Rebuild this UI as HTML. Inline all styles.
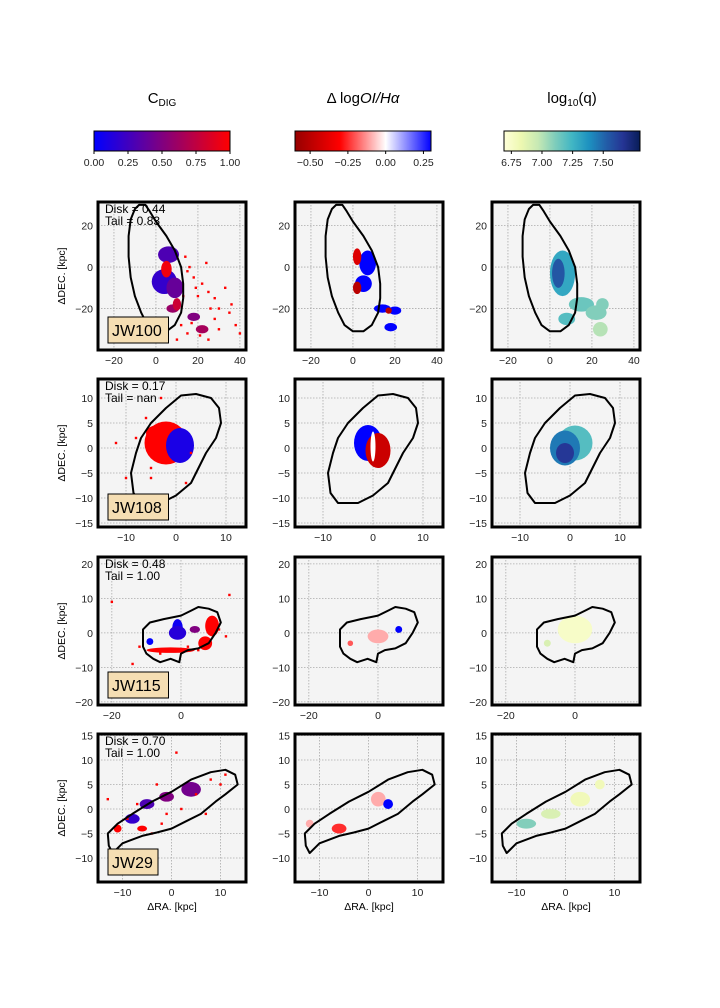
<!DOCTYPE html>
<html><head><meta charset="utf-8"><style>
body{margin:0;background:#fff;}
svg{display:block;font-family:"Liberation Sans",sans-serif;}
</style></head><body>
<svg id="fig" width="720" height="1008" viewBox="0 0 720 1008" xmlns="http://www.w3.org/2000/svg"></svg>
<script>
// ---- data ----
const colTitles = ["C_DIG","Δ logOI/Hα","log10(q)"];
const cbTicks0 = [0,0.25,0.5,0.75,1.0];
const cbTickLabels0 = ["0.00","0.25","0.50","0.75","1.00"];
const cbTicks1 = [-0.5,-0.25,0,0.25];
const cbTickLabels1 = ["−0.50","−0.25","0.00","0.25"];
const cbTicks2 = [6.75,7.0,7.25,7.5];
const cbTickLabels2 = ["6.75","7.00","7.25","7.50"];
const galaxyNames = ["JW100","JW108","JW115","JW29"];
const diskVals = ["0.44","0.17","0.48","0.70"];
const tailVals = ["0.83","nan","1.00","1.00"];
const xRanges = [[-27.6,42.9],[-15.6,14],[-24,18.8],[-15,15.2]];
const yRanges = [[-40,31.4],[-15.8,13.8],[-20.9,22],[-14.9,15.3]];
const xTicks = [[-20,0,20,40],[-10,0,10],[-20,0],[-10,0,10]];
const yTicks = [[20,0,-20],[10,5,0,-5,-10,-15],[20,10,0,-10,-20],[15,10,5,0,-5,-10]];
const contour0 = [[-8,30],[-5,30],[-3,27],[0,22],[5,15],[9,8],[12,0],[13,-8],[13,-15],[12,-22],[9,-28],[5,-31],[0,-31],[-4,-28],[-7,-22],[-10,-14],[-12,-5],[-13,5],[-13,15],[-12,23],[-10,28]];
const contour1 = [[4,10.8],[7,10],[8.6,8],[9,5],[8,2],[6,-1],[4.5,-4],[3,-7],[0,-9.5],[-3,-11],[-7,-11],[-8.5,-9],[-9,-5],[-8,-1],[-7,2],[-5,5],[-2,8],[1,10.5]];
const contour2 = [[-11,1],[-9,3],[-5,4],[0,5],[3,6.5],[5,7.5],[8,7],[10.5,6],[11.5,3],[10,0],[8,-3],[5,-4.5],[2,-5],[0,-6],[-0.5,-8.5],[-3,-7.5],[-6,-8.5],[-8,-7.5],[-10,-6],[-11,-4]];
const contour3 = [[-12.8,-7.5],[-13,-5],[-11,-3],[-8,-1],[-4,1.5],[0,3.5],[4,6],[8,7.5],[11,8],[13,7],[13.5,5],[11,3],[9,1.5],[6,-1],[3,-2.5],[0,-4],[-3,-4.8],[-6,-5.5],[-10,-7],[-12,-9]];
const contours = [contour0,contour1,contour2,contour3];
// blobs: [x, y, rx, ry, value]
const cdigBlobs = [
 [[6,6,5,4,0.3],[4,-7,6,6,0.2],[9,-10,4,5,0.4],[5,-1,2.5,4,0.95],[8,-20,3,2,0.6],[18,-24,3,2,0.5],[22,-30,3,2,0.65],[10,-18,2,3,0.8]],
 [[-2,1,4.3,4.3,1.0],[0.8,0.5,2.8,3.5,0.1],[-4,3,2,1.5,1.0]],
 [[-3,-5,7,0.8,1],[9,2,2,3,1],[7,-3,2,2,1],[-1,1.5,1.5,2.5,0.05],[-1,0,2.5,2,0.15],[4,1,1.5,1,0.5],[-9,-2.5,1,1,0.0]],
 [[4,4,2,1.5,0.45],[-1,2.5,1.5,1,0.5],[-5,1,1.5,1,0.3],[-8,-2,1.5,1,0.2],[-6,-4,1,0.6,1],[-11,-4,0.8,0.8,1]]
];
const oiBlobs = [
 [[7,2,4,6,0.3],[5,-8,4,4,0.3],[2,5,2,4,-0.4],[2,-10,2,3,-0.5],[14,-20,4,2,0.3],[20,-21,3,2,0.3],[18,-29,3,2,0.3],[17,-21,1.5,1.5,-0.5]],
 [[-1,1,2.8,3.6,0.3],[1,-0.5,2.5,3.5,-0.45],[0,0.3,0.5,3,0]],
 [[0,-1,3,2,-0.1],[-8,-3,0.8,0.8,-0.2],[6,1,1,1,0.3]],
 [[-6,-4,1.5,1,-0.25],[2,2,1.5,1.5,-0.1],[4,1,1,1,0.3],[-12,-3,0.8,0.8,-0.1]]
];
const qBlobs = [
 [[6,-3,6,11,7.3],[4,-3,3,7,7.55],[15,-18,6,3.5,7.15],[22,-22,5,3.5,7.1],[24,-30,3.5,3.5,7.0],[25,-18,3,3,7.1],[8,-25,4,3,7.2]],
 [[1,1,3.5,3.5,7.2],[-1,0,3,3.5,7.45],[-1,-1,1.8,2,7.65]],
 [[0,1,5,4,6.75],[-8,-3,1,1,6.9]],
 [[3,2,2,1.5,6.8],[-8,-3,2,1,7.1],[-3,-1,2,1,6.9],[7,5,1,1,6.8]]
];
// scattered pixels in C_DIG maps: [x, y, value]
const cdigSpecks = [
 [[15,-2,1],[18,-5,1],[22,-8,1],[25,-12,1],[28,-15,1],[30,-20,1],[35,-22,1],[38,-28,1],[40,-32,1],[12,-28,1],[15,-32,1],[25,-35,1],[30,-30,1],[20,-14,1],[14,5,1],[24,2,1],[33,-10,1],[36,-18,1],[10,-35,1],[28,-25,1],[17,-27,1],[21,-33,1],[16,0,1],[19,-10,1],[26,-20,1],[13,-14,1]],
 [[-8,2,1],[-5,-4,1],[-10,-6,1],[2,-7,1],[-3,10,1],[-12,1,1],[-5,-6,1],[3,-1,1],[-6,6,1],[-2,-12,1]],
 [[-12,-4,1],[-14,-9,1],[11,1,1],[13,-1,1],[-6,-6,1],[2,-4,1],[5,-5,1],[-20,9,1],[14,11,1]],
 [[-9,-2,1],[-4,-5,1],[-2,-3,1],[2,0,1],[5,3,1],[8,6,1],[10,5,1],[-3,5,1],[-7,1,1],[1,11.5,1],[-13,2,1],[11,7,1],[7,-1,1],[-1,-1,1]]
];
// ---- helpers ----
const NS="http://www.w3.org/2000/svg";
const fig=document.getElementById('fig');
function mk(tag,attrs,parent){const e=document.createElementNS(NS,tag);for(const k in attrs)e.setAttribute(k,attrs[k]);(parent||fig).appendChild(e);return e;}
function lerp(a,b,t){return a+(b-a)*t;}
function interp(stops,t){t=Math.max(0,Math.min(1,t));for(let i=1;i<stops.length;i++){if(t<=stops[i][0]){const s=stops[i-1],e=stops[i];const u=(t-s[0])/(e[0]-s[0]);return `rgb(${Math.round(lerp(s[1],e[1],u))},${Math.round(lerp(s[2],e[2],u))},${Math.round(lerp(s[3],e[3],u))})`;}}const l=stops[stops.length-1];return `rgb(${l[1]},${l[2]},${l[3]})`;}
const stops0=[[0,0,0,255],[0.5,128,0,128],[1,255,0,0]];
const stops1=[[0,150,0,0],[0.33,255,0,0],[0.667,255,255,255],[1,0,0,255]];
const stops2=[[0,255,255,217],[0.125,237,248,177],[0.25,199,233,180],[0.375,127,205,187],[0.5,65,182,196],[0.625,29,145,192],[0.75,34,94,168],[0.875,37,52,148],[1,8,29,88]];
const cmaps=[{stops:stops0,vmin:0,vmax:1},{stops:stops1,vmin:-0.6,vmax:0.3},{stops:stops2,vmin:6.69,vmax:7.80}];
function col(c,v){const m=cmaps[c];return interp(m.stops,(v-m.vmin)/(m.vmax-m.vmin));}
// ---- colorbars ----
const cbX=[94,295,504], cbW=136, cbY=131, cbH=20, cbCx=[162,363,572];
const cbTicksAll=[cbTicks0,cbTicks1,cbTicks2], cbLabAll=[cbTickLabels0,cbTickLabels1,cbTickLabels2];
const defs=mk('defs',{});
for(let c=0;c<3;c++){
  const g=mk('linearGradient',{id:'g'+c,x1:0,x2:1,y1:0,y2:0},defs);
  for(const s of cmaps[c].stops){mk('stop',{offset:s[0],'stop-color':`rgb(${s[1]},${s[2]},${s[3]})`},g);}
  const t=mk('text',{x:cbCx[c],y:103,'text-anchor':'middle','font-size':15,fill:'#000'});
  
  
  if(c===0){t.innerHTML='C<tspan font-size="10" dy="3">DIG</tspan>';}
  else if(c===1){t.innerHTML='Δ log<tspan font-style="italic">OI/Hα</tspan>';}
  else{t.innerHTML='log<tspan font-size="10" dy="3">10</tspan><tspan dy="-3">(q)</tspan>';}
  const r=mk('rect',{x:cbX[c],y:cbY,width:cbW,height:cbH,fill:`url(#g${c})`,stroke:'#000','stroke-width':1});
  
  
  const m=cmaps[c];
  cbTicksAll[c].forEach((v,i)=>{
    const x=cbX[c]+(v-m.vmin)/(m.vmax-m.vmin)*cbW;
    mk('line',{x1:x,x2:x,y1:cbY+cbH,y2:cbY+cbH+3,stroke:'#000','stroke-width':1});
    const tl=mk('text',{x:x,y:166,'text-anchor':'middle','font-size':10.5,fill:'#222'});
    
    
    tl.textContent=cbLabAll[c][i];
  });
}
// ---- panels ----
const colX=[98,295,492], rowY=[202,379,557,734], P=148;
const blobSets=[cdigBlobs,oiBlobs,qBlobs];
for(let r=0;r<4;r++){
  for(let c=0;c<3;c++){
    const x0=colX[c], y0=rowY[r];
    const [xa,xb]=xRanges[r], [ya,yb]=yRanges[r];
    const sx=v=>x0+(v-xa)/(xb-xa)*P;
    const sy=v=>y0+P-(v-ya)/(yb-ya)*P;
    const kx=P/(xb-xa), ky=P/(yb-ya);
    const g=mk('g',{});
    
    
    mk('rect',{x:x0,y:y0,width:P,height:P,fill:'#f4f4f4'},g);
    for(const t of xTicks[r]){const x=sx(t);mk('line',{x1:x,x2:x,y1:y0,y2:y0+P,stroke:'#aaa','stroke-width':0.8,'stroke-dasharray':'1.5,1.5'},g);
      const tl=mk('text',{x:x,y:y0+P+14,'text-anchor':'middle','font-size':10.5,fill:'#222'},g);
      
      
      tl.textContent=(t<0?'−'+(-t):String(t));}
    for(const t of yTicks[r]){const y=sy(t);mk('line',{x1:x0,x2:x0+P,y1:y,y2:y,stroke:'#aaa','stroke-width':0.8,'stroke-dasharray':'1.5,1.5'},g);
      const tl=mk('text',{x:x0-5,y:y+4,'text-anchor':'end','font-size':10.5,fill:'#222'},g);
      
      
      tl.textContent=(t<0?'−'+(-t):String(t));}
    const clipId=`cp${r}${c}`;
    const cp=mk('clipPath',{id:clipId},defs);mk('rect',{x:x0,y:y0,width:P,height:P},cp);
    const dg=mk('g',{'clip-path':`url(#${clipId})`},g);
    for(const b of blobSets[c][r]){
      const e=mk('ellipse',{cx:sx(b[0]),cy:sy(b[1]),rx:b[2]*kx,ry:b[3]*ky,fill:col(c,b[4])},dg);
      
      
    }
    if(c===0){for(const s of cdigSpecks[r]){
      const e=mk('rect',{x:sx(s[0])-1.2,y:sy(s[1])-1.2,width:2.4,height:2.4,fill:col(0,s[2])},dg);
      
      
    }}
    const pts=contours[r].map(p=>sx(p[0]).toFixed(1)+','+sy(p[1]).toFixed(1)).join(' ');
    const pg=mk('polygon',{points:pts,fill:'none',stroke:'#000','stroke-width':2,'stroke-linejoin':'round'},dg);
    
    
    mk('rect',{x:x0,y:y0,width:P,height:P,fill:'none',stroke:'#000','stroke-width':3},g);
    if(c===0){
      const t1=mk('text',{x:x0+7,y:y0+11,'font-size':12,fill:'#000'},g);
      
      
      t1.textContent='Disk = '+diskVals[r];
      const t2=mk('text',{x:x0+7,y:y0+23,'font-size':12,fill:'#000'},g);
      
      
      t2.textContent='Tail = '+tailVals[r];
      const w=galaxyNames[r].length*10.5+8;
      const bx=mk('rect',{x:x0+10,y:y0+115,width:w,height:26,fill:'#f5deb3',stroke:'#000','stroke-width':1},g);
      
      
      const tn=mk('text',{x:x0+14,y:y0+134,'font-size':16,fill:'#000'},g);
      
      
      tn.textContent=galaxyNames[r];
      const yl=mk('text',{x:0,y:0,'font-size':10.5,fill:'#000','text-anchor':'middle',transform:`translate(65,${y0+P/2}) rotate(-90)`},g);
      
      
      yl.textContent='ΔDEC. [kpc]';
    }
    if(r===3){
      const xl=mk('text',{x:x0+P/2,y:910,'font-size':10.5,fill:'#000','text-anchor':'middle'},g);
      
      
      xl.textContent='ΔRA. [kpc]';
    }
  }
}
</script>
</body></html>
